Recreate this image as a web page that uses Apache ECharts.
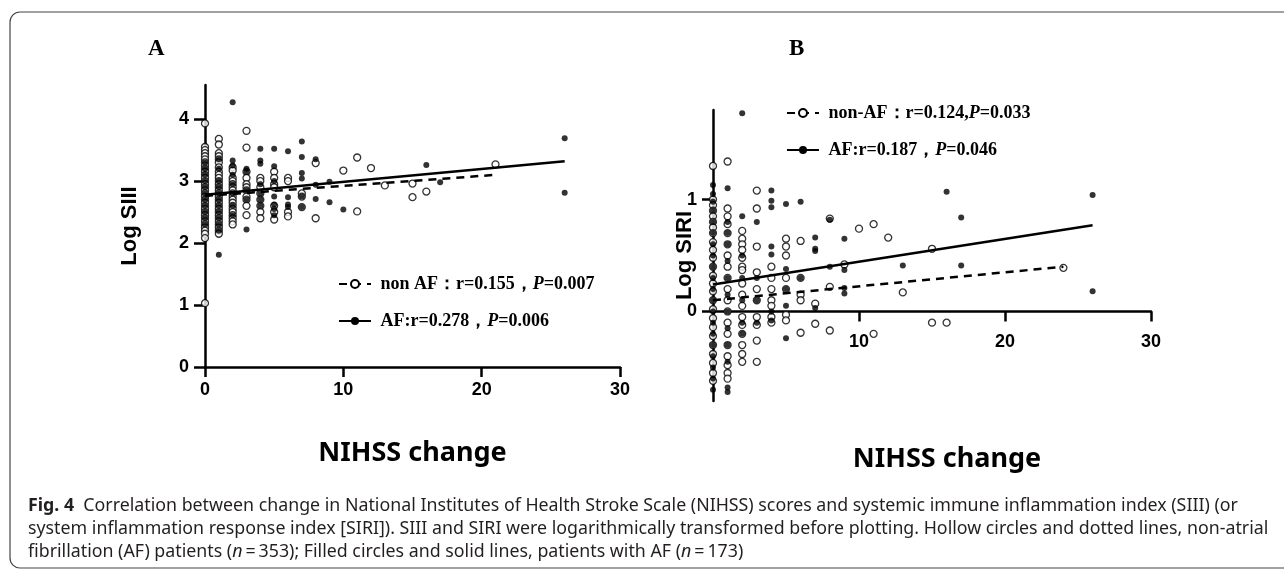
<!DOCTYPE html>
<html>
<head>
<meta charset="utf-8">
<script src="https://cdn.jsdelivr.net/npm/echarts@6/dist/echarts.min.js"></script>
<style>
  html, body { margin: 0; padding: 0; background: #fff; }
  #main { width: 1284px; height: 571px; }
</style>
</head>
<body>
<div id="main"></div>
<script>
// Panel A: NIHSS change vs Log SIII, [x, y]
var siiNonAF = [
  [0,3.93],[0,3.55],[0,3.5],[0,3.45],[0,3.4],[0,3.35],[0,3.3],[0,3.25],[0,3.2],[0,3.15],[0,3.1],[0,3.05],[0,3.0],[0,2.95],[0,2.9],[0,2.85],[0,2.8],[0,2.75],[0,2.7],[0,2.65],[0,2.6],[0,2.55],[0,2.5],[0,2.45],[0,2.4],[0,2.35],[0,2.3],[0,2.25],[0,2.2],[0,2.15],[0,2.08],[0,1.03],
  [1,3.68],[1,3.59],[1,3.45],[1,3.4],[1,3.35],[1,3.3],[1,3.22],[1,3.15],[1,3.1],[1,3.05],[1,3.0],[1,2.95],[1,2.9],[1,2.85],[1,2.8],[1,2.75],[1,2.7],[1,2.65],[1,2.6],[1,2.55],[1,2.5],[1,2.45],[1,2.4],[1,2.35],[1,2.3],[1,2.25],[1,2.2],[1,2.15],
  [2,3.22],[2,3.17],[2,3.05],[2,3.0],[2,2.95],[2,2.9],[2,2.85],[2,2.8],[2,2.75],[2,2.7],[2,2.65],[2,2.6],[2,2.55],[2,2.5],[2,2.45],[2,2.4],[2,2.35],[2,2.3],
  [3,3.81],[3,3.54],[3,3.15],[3,3.05],[3,2.95],[3,2.9],[3,2.85],[3,2.75],[3,2.7],[3,2.6],[3,2.45],
  [4,3.05],[4,3.0],[4,2.9],[4,2.8],[4,2.7],[4,2.6],[4,2.5],[4,2.4],
  [5,3.15],[5,3.05],[5,2.95],[5,2.9],[5,2.6],[5,2.5],[5,2.38],
  [6,3.05],[6,3.0],[6,2.5],[6,2.43],
  [7,2.8],[7,2.75],[7,2.58],
  [8,3.29],[8,2.4],
  [10,3.17],[11,3.38],[11,2.51],[12,3.21],[13,2.93],[15,2.96],[15,2.74],[16,2.83],[21,3.27]
];
var siiAF = [
  [0,3.3],[0,3.2],[0,3.1],[0,3.0],[0,2.9],[0,2.8],[0,2.7],[0,2.6],[0,2.5],[0,2.4],[0,2.3],
  [1,3.35],[1,3.2],[1,3.0],[1,2.9],[1,2.8],[1,2.7],[1,2.6],[1,2.5],[1,2.4],[1,2.3],[1,2.2],[1,1.81],
  [2,4.27],[2,3.33],[2,3.25],[2,3.1],[2,2.95],[2,2.8],[2,2.6],[2,2.45],
  [3,3.2],[3,3.15],[3,2.85],[3,2.7],[3,2.22],
  [4,3.52],[4,3.33],[4,3.28],[4,2.95],[4,2.8],[4,2.7],[4,2.6],
  [5,3.52],[5,3.24],[5,3.0],[5,2.75],[5,2.62],[5,2.55],[5,2.45],
  [6,3.48],[6,2.74],[6,2.62],[6,2.58],
  [7,3.64],[7,3.39],[7,3.13],[7,3.04],[7,2.75],[7,2.58],
  [8,3.35],[8,2.94],[8,2.71],
  [9,2.99],[9,2.66],[10,2.54],[16,3.26],[17,2.98],[26,3.69],[26,2.81]
];
var siiFitNonAF = [[0,2.76],[21,3.1]];
var siiFitAF = [[0,2.78],[26,3.32]];

// Panel B: NIHSS change vs Log SIRI
var siriNonAF = [
  [0,1.3],[0,1.0],[0,0.95],[0,0.9],[0,0.85],[0,0.8],[0,0.75],[0,0.7],[0,0.62],[0,0.55],[0,0.48],[0,0.4],[0,0.32],[0,0.25],[0,0.18],[0,0.1],[0,0.02],[0,-0.06],[0,-0.14],[0,-0.22],[0,-0.3],[0,-0.38],[0,-0.46],[0,-0.55],[0,-0.62],
  [1,1.34],[1,0.92],[1,0.85],[1,0.78],[1,0.7],[1,0.6],[1,0.5],[1,0.4],[1,0.3],[1,0.2],[1,0.1],[1,0.0],[1,-0.1],[1,-0.2],[1,-0.3],[1,-0.4],[1,-0.48],[1,-0.55],[1,-0.6],
  [2,0.72],[2,0.65],[2,0.6],[2,0.55],[2,0.48],[2,0.4],[2,0.37],[2,0.25],[2,0.15],[2,0.05],[2,-0.05],[2,-0.12],[2,-0.2],[2,-0.3],[2,-0.38],[2,-0.45],
  [3,1.08],[3,0.92],[3,0.58],[3,0.35],[3,0.2],[3,0.1],[3,-0.05],[3,-0.12],[3,-0.26],[3,-0.45],
  [4,0.4],[4,0.3],[4,0.2],[4,0.1],[4,0.05],[4,-0.05],[4,-0.1],
  [5,0.65],[5,0.58],[5,0.5],[5,0.3],[5,0.2],[5,-0.03],[5,-0.08],
  [6,0.63],[6,0.3],[6,0.15],[6,0.1],[6,-0.19],
  [7,0.07],[7,-0.11],[8,0.83],[8,0.22],[8,-0.17],[9,0.42],[10,0.74],[11,0.78],[11,-0.2],
  [12,0.66],[13,0.17],[15,0.56],[15,-0.1],[16,-0.1],[24,0.39]
];
var siriAF = [
  [0,1.13],[0,1.05],[0,0.98],[0,0.9],[0,0.8],[0,0.7],[0,0.6],[0,0.5],[0,0.4],[0,0.3],[0,0.2],[0,0.1],[0,0.0],[0,-0.1],[0,-0.2],[0,-0.3],[0,-0.4],[0,-0.5],[0,-0.6],[0,-0.7],
  [1,1.1],[1,0.8],[1,0.7],[1,0.6],[1,0.45],[1,0.3],[1,0.15],[1,0.0],[1,-0.15],[1,-0.3],[1,-0.45],[1,-0.68],[1,-0.72],
  [2,1.77],[2,0.85],[2,0.5],[2,0.3],[2,0.1],[2,-0.1],[2,-0.2],
  [3,0.8],[3,0.3],[3,0.1],[3,-0.1],
  [4,1.08],[4,0.99],[4,0.93],[4,0.58],[4,0.51],[4,0.0],[4,-0.08],
  [5,0.96],[5,0.38],[5,0.2],[5,0.05],[5,-0.24],
  [6,0.98],[6,0.3],[7,0.66],[7,0.56],[7,0.54],[7,0.03],[8,0.82],[8,0.4],
  [9,0.65],[9,0.37],[9,0.21],[9,0.16],[13,0.41],[16,1.07],[17,0.84],[17,0.41],[26,1.04],[26,0.18]
];
var siriFitNonAF = [[0,0.1],[24,0.4]];
var siriFitAF = [[0,0.24],[26,0.77]];

var xTicksA = [0, 10, 20, 30];
var yTicksA = [0, 1, 2, 3, 4];
var xTicksB = [10, 20, 30];
var yTicksB = [0, 1];

var legendTextA = [' non AF：r=0.155，{i|P}=0.007', ' AF:r=0.278，{i|P}=0.006'];
var legendTextB = [' non-AF：r=0.124,{i|P}=0.033', ' AF:r=0.187，{i|P}=0.046'];

var chart = echarts.init(document.getElementById('main'));

function xAxisOf(gi, ticks, offset, margin, nameGap, shift) {
  return {
    gridIndex: gi, type: 'value', min: 0, max: 30, offset: offset,
    name: 'NIHSS change', nameLocation: 'middle', nameGap: nameGap, nameMoveOverlap: false,
    nameTextStyle: { fontFamily: 'Noto Sans', fontWeight: 'bold', fontSize: 27, color: '#000', padding: [0, 0, 0, shift] },
    axisLine: { onZero: false, lineStyle: { color: '#000', width: 2.5 } },
    axisTick: { show: true, length: 10, customValues: ticks, lineStyle: { color: '#000', width: 2.5 } },
    axisLabel: { customValues: ticks, margin: margin, color: '#000', fontFamily: 'Liberation Sans', fontWeight: 'bold', fontSize: 18 },
    splitLine: { show: false }
  };
}
function yAxisOf(gi, min, max, ticks, name, nameGap) {
  return {
    gridIndex: gi, type: 'value', min: min, max: max,
    name: name, nameLocation: 'middle', nameGap: nameGap, nameRotate: 90, nameMoveOverlap: false,
    nameTextStyle: { fontFamily: 'Liberation Sans', fontWeight: 'bold', fontSize: 22, color: '#000' },
    axisLine: { onZero: false, lineStyle: { color: '#000', width: 2.5 } },
    axisTick: { show: true, length: 11, customValues: ticks, lineStyle: { color: '#000', width: 2.5 } },
    axisLabel: { customValues: ticks, margin: 16, color: '#000', fontFamily: 'Liberation Sans', fontWeight: 'bold', fontSize: 18 },
    splitLine: { show: false }
  };
}
function hollow(name, data, xi) {
  return { name: name, type: 'scatter', xAxisIndex: xi, yAxisIndex: xi, data: data, symbol: 'circle', symbolSize: 7,
    itemStyle: { color: '#fff', borderColor: '#000', borderWidth: 1.3 }, z: 3, clip: false };
}
function filled(name, data, xi) {
  return { name: name, type: 'scatter', xAxisIndex: xi, yAxisIndex: xi, data: data, symbol: 'circle', symbolSize: 6,
    itemStyle: { color: '#000' }, z: 4, clip: false };
}
function fit(name, data, xi, dashed, emptySym) {
  return { name: name, type: 'line', xAxisIndex: xi, yAxisIndex: xi, data: data, showSymbol: false,
    symbol: emptySym ? 'emptyCircle' : 'circle', symbolSize: 5,
    lineStyle: { color: '#000', width: 2.5, type: dashed ? [8, 6] : 'solid' },
    itemStyle: { color: '#000', borderColor: '#000' }, z: 5, silent: true };
}
var legendFont = { fontFamily: 'Liberation Serif', fontWeight: 'bold', fontSize: 18, color: '#000',
  rich: { i: { fontFamily: 'Liberation Serif', fontWeight: 'bold', fontStyle: 'italic', fontSize: 18, color: '#000' } } };

chart.setOption({
  backgroundColor: '#fff',
  animation: false,
  grid: [
    { left: 205, top: 85, width: 415, height: 282 },
    { left: 713, top: 110, width: 438, height: 291 }
  ],
  xAxis: [xAxisOf(0, xTicksA, 0, 14, 73, 0), xAxisOf(1, xTicksB, -89.5, 22, 134, 30)],
  yAxis: [yAxisOf(0, 0, 4.55, yTicksA, 'Log SIII', 64), yAxisOf(1, -0.8, 1.8, yTicksB, 'Log SIRI', 17)],
  legend: [
    { data: ['fitNonAF_A', 'fitAF_A'], orient: 'vertical', left: 333, top: 270, itemGap: 19, itemWidth: 32, itemHeight: 10,
      formatter: function (n) { return n === 'fitNonAF_A' ? legendTextA[0] : legendTextA[1]; }, textStyle: legendFont, selectedMode: false },
    { data: ['fitNonAF_B', 'fitAF_B'], orient: 'vertical', left: 781, top: 99, itemGap: 19, itemWidth: 32, itemHeight: 10,
      formatter: function (n) { return n === 'fitNonAF_B' ? legendTextB[0] : legendTextB[1]; }, textStyle: legendFont, selectedMode: false }
  ],
  graphic: [
    { type: 'rect', shape: { x: 10, y: 12, width: 1300, height: 556, r: 10 }, style: { fill: null, stroke: '#444', lineWidth: 1.2 }, silent: true },
    { type: 'text', left: 148, top: 38, style: { text: 'A', font: 'bold 23px "Liberation Serif"', fill: '#000' } },
    { type: 'text', left: 789, top: 38, style: { text: 'B', font: 'bold 23px "Liberation Serif"', fill: '#000' } },
    { type: 'text', left: 28, top: 494, style: {
        text: '{b|Fig. 4}  Correlation between change in National Institutes of Health Stroke Scale (NIHSS) scores and systemic immune inflammation index (SIII) (or\n' +
              'system inflammation response index [SIRI]). SIII and SIRI were logarithmically transformed before plotting. Hollow circles and dotted lines, non-atrial\n' +
              'fibrillation (AF) patients ({i|n}\u2009=\u2009353); Filled circles and solid lines, patients with AF ({i|n}\u2009=\u2009173)',
        font: '17.8px "Noto Sans"', fill: '#231f20', lineHeight: 23,
        rich: { b: { fontWeight: 'bold', fontFamily: 'Noto Sans', fontSize: 17.8, fill: '#231f20' },
                i: { fontStyle: 'italic', fontFamily: 'Noto Sans', fontSize: 17.8, fill: '#231f20' } } } }
  ],
  series: [
    hollow('nonAF_A', siiNonAF, 0), filled('AF_A', siiAF, 0),
    fit('fitNonAF_A', siiFitNonAF, 0, true, true), fit('fitAF_A', siiFitAF, 0, false, false),
    hollow('nonAF_B', siriNonAF, 1), filled('AF_B', siriAF, 1),
    fit('fitNonAF_B', siriFitNonAF, 1, true, true), fit('fitAF_B', siriFitAF, 1, false, false)
  ]
});
</script>
</body>
</html>
